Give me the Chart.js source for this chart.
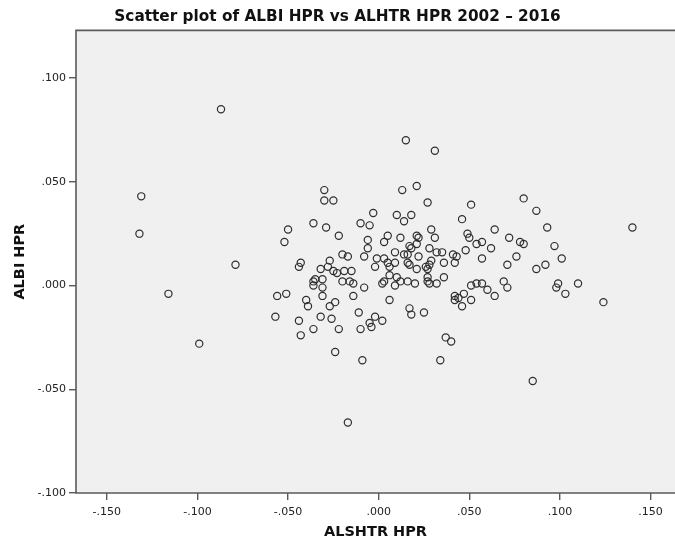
<!DOCTYPE html>
<html>
<head>
<meta charset="utf-8">
<script src="https://cdn.jsdelivr.net/npm/chart.js@4/dist/chart.umd.min.js"></script>
<style>
  html, body { margin: 0; padding: 0; background: #ffffff; }
  #wrap { width: 675px; height: 544px; }
</style>
</head>
<body>
<div id="wrap"><canvas id="c" width="675" height="544"></canvas></div>
<script>
// ALSHTR HPR (x) and ALBI HPR (y)
const alshtrHpr = [
  -0.087,-0.131,-0.132,-0.116,-0.099,-0.079, 0.015, 0.031,-0.017, 0.140, 0.124, 0.085, 0.080,
  -0.030,-0.030,-0.025, 0.021, 0.013,-0.003, 0.010, 0.018, 0.014,-0.050,-0.036,-0.029,-0.022,
  -0.010,-0.005,-0.052, 0.005, 0.012, 0.021,-0.006, 0.003,-0.006, 0.017, 0.018, 0.021,-0.020,
  -0.017,-0.008, 0.009, 0.014, 0.016,-0.001, 0.003, 0.022,-0.043,-0.044,-0.027,-0.032,-0.028,
  -0.025,-0.023,-0.019,-0.015,-0.002, 0.005, 0.006, 0.009, 0.016, 0.017, 0.021, 0.006, 0.010,
  -0.036,-0.035,-0.036,-0.031,-0.031,-0.020,-0.016,-0.014,-0.008, 0.002, 0.003, 0.009, 0.012,
   0.016, 0.020,-0.056,-0.051,-0.040,-0.039,-0.031,-0.024,-0.027,-0.014, 0.006, 0.017, 0.018,
  -0.057,-0.044,-0.032,-0.026,-0.011,-0.002,-0.005,-0.004,-0.010, 0.002,-0.036,-0.043,-0.022,
  -0.024,-0.009, 0.027, 0.051, 0.087, 0.046, 0.029, 0.064, 0.093, 0.022, 0.031, 0.049, 0.050,
   0.072, 0.078, 0.080, 0.097, 0.054, 0.057, 0.062, 0.028, 0.048, 0.032, 0.035, 0.041, 0.043,
   0.042, 0.057, 0.076, 0.036, 0.029, 0.028, 0.026, 0.027, 0.071, 0.087, 0.092, 0.036, 0.027,
   0.027, 0.028, 0.032, 0.051, 0.054, 0.057, 0.069, 0.071, 0.060, 0.064, 0.042, 0.044, 0.042,
   0.047, 0.051, 0.046, 0.025, 0.037, 0.040, 0.034, 0.101, 0.099, 0.098, 0.110, 0.103
];
const albiHpr = [
   0.085, 0.043, 0.025,-0.004,-0.028, 0.010, 0.070, 0.065,-0.066, 0.028,-0.008,-0.046, 0.042,
   0.046, 0.041, 0.041, 0.048, 0.046, 0.035, 0.034, 0.034, 0.031, 0.027, 0.030, 0.028, 0.024,
   0.030, 0.029, 0.021, 0.024, 0.023, 0.024, 0.022, 0.021, 0.018, 0.019, 0.018, 0.020, 0.015,
   0.014, 0.014, 0.016, 0.015, 0.015, 0.013, 0.013, 0.014, 0.011, 0.009, 0.012, 0.008, 0.009,
   0.007, 0.006, 0.007, 0.007, 0.009, 0.011, 0.009, 0.011, 0.011, 0.010, 0.008, 0.005, 0.004,
   0.002, 0.003, 0.000, 0.003,-0.001, 0.002, 0.002, 0.001,-0.001, 0.001, 0.002, 0.000, 0.002,
   0.002, 0.001,-0.005,-0.004,-0.007,-0.010,-0.005,-0.008,-0.010,-0.005,-0.007,-0.011,-0.014,
  -0.015,-0.017,-0.015,-0.016,-0.013,-0.015,-0.018,-0.020,-0.021,-0.017,-0.021,-0.024,-0.021,
  -0.032,-0.036, 0.040, 0.039, 0.036, 0.032, 0.027, 0.027, 0.028, 0.023, 0.023, 0.025, 0.023,
   0.023, 0.021, 0.020, 0.019, 0.020, 0.021, 0.018, 0.018, 0.017, 0.016, 0.016, 0.015, 0.014,
   0.011, 0.013, 0.014, 0.011, 0.012, 0.010, 0.009, 0.008, 0.010, 0.008, 0.010, 0.004, 0.004,
   0.002, 0.001, 0.001, 0.000, 0.001, 0.001, 0.002,-0.001,-0.002,-0.005,-0.005,-0.006,-0.007,
  -0.004,-0.007,-0.010,-0.013,-0.025,-0.027,-0.036, 0.013, 0.001,-0.001, 0.001,-0.004
];
const xTickValues = [-0.15, -0.10, -0.05, 0.00, 0.05, 0.10, 0.15];
const yTickValues = [-0.10, -0.05, 0.00, 0.05, 0.10];

const titleText = 'Scatter plot of ALBI HPR vs ALHTR HPR 2002 – 2016';
const xTitle = 'ALSHTR HPR';
const yTitle = 'ALBI HPR';

const points = alshtrHpr.map((x, i) => ({ x: x, y: albiHpr[i] }));

function fmt(v) {
  const s = Math.abs(v).toFixed(3).replace(/^0/, '');
  return (v < -1e-9 ? '-' : '') + s;
}

const frame = {
  id: 'frame',
  beforeDraw(chart) {
    const { ctx, chartArea: a } = chart;
    ctx.save();
    ctx.fillStyle = '#f0f0f0';
    ctx.fillRect(a.left, a.top, a.right - a.left, a.bottom - a.top);
    ctx.restore();
  },
  afterDraw(chart) {
    const { ctx, chartArea: a } = chart;
    ctx.save();
    ctx.strokeStyle = '#5a5a5a';
    ctx.lineWidth = 1.6;
    ctx.beginPath();
    ctx.moveTo(a.right + 2, a.top);
    ctx.lineTo(a.left, a.top);
    ctx.lineTo(a.left, a.bottom);
    ctx.lineTo(a.right + 2, a.bottom);
    ctx.stroke();
    ctx.restore();
  }
};

new Chart(document.getElementById('c'), {
  type: 'scatter',
  data: {
    datasets: [{
      data: points,
      pointStyle: 'circle',
      pointRadius: 3.6,
      pointHoverRadius: 3.6,
      pointBorderWidth: 1.2,
      borderColor: '#2e2e2e',
      backgroundColor: 'rgba(0,0,0,0)'
    }]
  },
  plugins: [frame],
  options: {
    responsive: false,
    animation: false,
    devicePixelRatio: 1,
    layout: { autoPadding: false, padding: 0 },
    plugins: {
      legend: { display: false },
      tooltip: { enabled: false },
      title: {
        display: true,
        text: titleText,
        color: '#111',
        font: { family: 'DejaVu Sans', size: 15.3, weight: 'bold' },
        padding: { top: 8, bottom: 4 }
      }
    },
    scales: {
      x: {
        type: 'linear',
        min: -0.167,
        max: 0.1635,
        afterFit(s) { s.height = 51; s.paddingLeft = 0; s.paddingRight = 0; },
        afterBuildTicks(s) { s.ticks = xTickValues.map(v => ({ value: v })); },
        border: { display: false },
        grid: { display: true, drawOnChartArea: false, drawTicks: true, tickLength: 7, color: '#5a5a5a', lineWidth: 1.4 },
        ticks: {
          color: '#222',
          font: { family: 'DejaVu Sans', size: 11 },
          padding: 6,
          maxRotation: 0,
          autoSkip: false,
          callback: v => fmt(v)
        },
        title: {
          display: true,
          text: xTitle,
          color: '#111',
          font: { family: 'DejaVu Sans', size: 14.5, weight: 'bold' },
          padding: { top: 0, bottom: 3 }
        }
      },
      y: {
        type: 'linear',
        min: -0.1,
        max: 0.123,
        afterFit(s) { s.width = 76; s.paddingTop = 0; s.paddingBottom = 0; },
        afterBuildTicks(s) { s.ticks = yTickValues.map(v => ({ value: v })); },
        border: { display: false },
        grid: { display: true, drawOnChartArea: false, drawTicks: true, tickLength: 7, color: '#5a5a5a', lineWidth: 1.4 },
        ticks: {
          color: '#222',
          font: { family: 'DejaVu Sans', size: 11 },
          padding: 3,
          autoSkip: false,
          callback: v => fmt(v)
        },
        title: {
          display: true,
          text: yTitle,
          color: '#111',
          font: { family: 'DejaVu Sans', size: 14.5, weight: 'bold' },
          padding: { top: 12, bottom: 0 }
        }
      }
    }
  }
});
</script>
</body>
</html>
